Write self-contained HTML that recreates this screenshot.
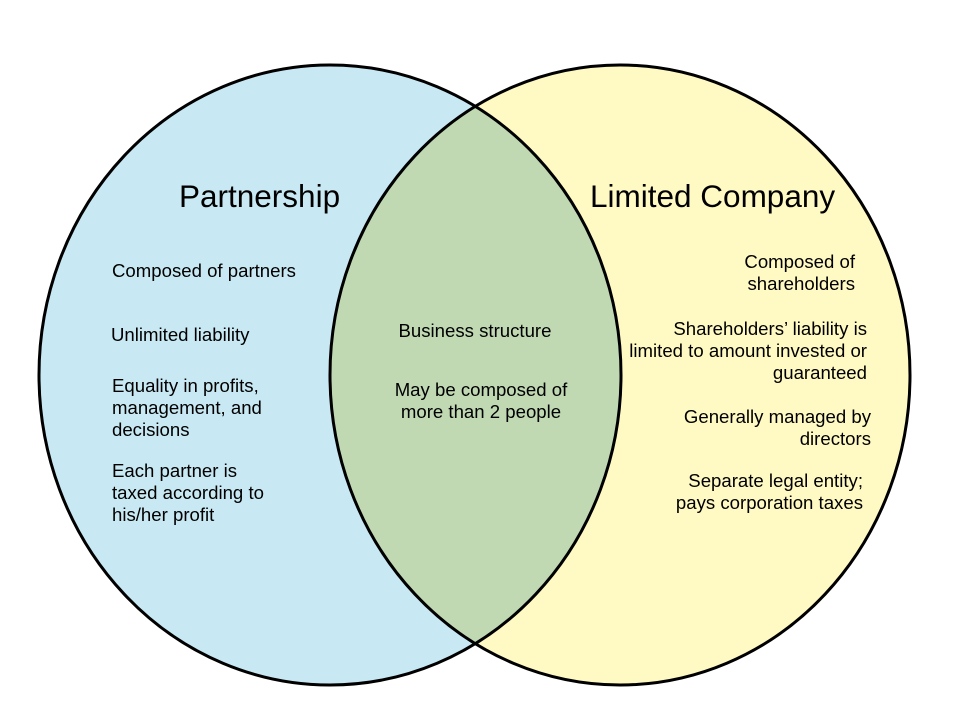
<!DOCTYPE html>
<html>
<head>
<meta charset="utf-8">
<style>
  html, body { margin: 0; padding: 0; background: #ffffff; }
  svg { display: block; }
  text { font-family: "Liberation Sans", Arial, sans-serif; fill: #000; }
</style>
</head>
<body>
<svg width="960" height="720" viewBox="0 0 960 720" xmlns="http://www.w3.org/2000/svg">
  <defs>
    <clipPath id="leftClip">
      <ellipse cx="330" cy="375" rx="291" ry="310"/>
    </clipPath>
  </defs>
  <rect width="960" height="720" fill="#ffffff"/>
  <ellipse cx="330" cy="375" rx="291" ry="310" fill="#C8E9F3"/>
  <ellipse cx="620" cy="375" rx="290" ry="310" fill="#FFF9C3"/>
  <ellipse cx="620" cy="375" rx="290" ry="310" fill="#C0D9B3" clip-path="url(#leftClip)"/>
  <ellipse cx="330" cy="375" rx="291" ry="310" fill="none" stroke="#000" stroke-width="3"/>
  <ellipse cx="620" cy="375" rx="290" ry="310" fill="none" stroke="#000" stroke-width="3"/>

  <!-- Titles -->
  <text x="179" y="207" font-size="31.5">Partnership</text>
  <text x="590" y="207" font-size="31.5">Limited Company</text>

  <!-- Left items -->
  <g font-size="18.6">
    <text x="112" y="277">Composed of partners</text>
    <text x="111" y="341">Unlimited liability</text>
    <text x="112" y="392">Equality in profits,</text>
    <text x="112" y="414">management, and</text>
    <text x="112" y="436">decisions</text>
    <text x="112" y="477">Each partner is</text>
    <text x="112" y="499">taxed according to</text>
    <text x="112" y="521">his/her profit</text>
  </g>

  <!-- Center items -->
  <g font-size="18.6" text-anchor="middle">
    <text x="475" y="337">Business structure</text>
    <text x="481" y="396">May be composed of</text>
    <text x="481" y="418">more than 2 people</text>
  </g>

  <!-- Right items -->
  <g font-size="18.6" text-anchor="end">
    <text x="855" y="268">Composed of</text>
    <text x="855" y="290">shareholders</text>
    <text x="867" y="335">Shareholders’ liability is</text>
    <text x="867" y="357">limited to amount invested or</text>
    <text x="867" y="379">guaranteed</text>
    <text x="871" y="423">Generally managed by</text>
    <text x="871" y="445">directors</text>
    <text x="863" y="487">Separate legal entity;</text>
    <text x="863" y="509">pays corporation taxes</text>
  </g>
</svg>
</body>
</html>
